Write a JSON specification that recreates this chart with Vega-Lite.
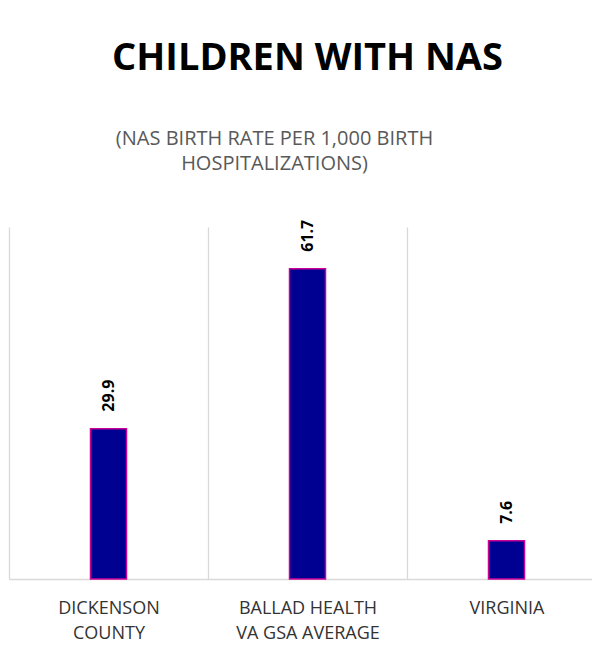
{
  "$schema": "https://vega.github.io/schema/vega-lite/v6.json",
  "autosize": "none",
  "width": 597,
  "height": 352,
  "padding": {"left": 9, "top": 227, "right": 0, "bottom": 80},
  "background": "white",
  "title": {
    "text": "CHILDREN WITH NAS",
    "font": "Open Sans",
    "fontSize": 38,
    "fontWeight": "bold",
    "color": "#000000",
    "anchor": "middle",
    "frame": "group",
    "baseline": "alphabetic",
    "offset": 20
  },
  "config": {
    "view": {"stroke": null},
    "font": "Open Sans"
  },
  "data": {
    "values": [
      {"area": "DICKENSON|COUNTY", "rate": 29.9},
      {"area": "BALLAD HEALTH|VA GSA AVERAGE", "rate": 61.7},
      {"area": "VIRGINIA", "rate": 7.6}
    ]
  },
  "encoding": {
    "x": {
      "field": "area",
      "type": "nominal",
      "sort": null,
      "scale": {"paddingInner": 0, "paddingOuter": 0},
      "axis": {
        "title": null,
        "labelAngle": 0,
        "labelExpr": "split(datum.label, '|')",
        "labelFont": "Open Sans",
        "labelFontSize": 18,
        "labelColor": "#333333",
        "labelLineHeight": 25,
        "labelPadding": 20,
        "ticks": false,
        "tickBand": "extent",
        "grid": true,
        "gridColor": "#d9d9d9",
        "gridWidth": 1.3,
        "domainColor": "#d9d9d9",
        "domainWidth": 1.5
      }
    },
    "y": {
      "field": "rate",
      "type": "quantitative",
      "scale": {"domain": [0, 70], "nice": false},
      "axis": {
        "labels": false,
        "ticks": false,
        "domain": false,
        "grid": false,
        "title": ["(NAS BIRTH RATE PER 1,000 BIRTH", "HOSPITALIZATIONS)"],
        "titleAngle": 0,
        "titleX": 265,
        "titleY": -83,
        "titleAlign": "center",
        "titleBaseline": "alphabetic",
        "titleFont": "Open Sans",
        "titleFontSize": 20,
        "titleFontWeight": "normal",
        "titleColor": "#595959",
        "titleLineHeight": 25
      }
    }
  },
  "layer": [
    {
      "mark": {"type": "bar", "width": 36, "fill": "#000091", "stroke": "#cc0099", "strokeWidth": 1.5}
    },
    {
      "mark": {"type": "text", "angle": 270, "align": "left", "baseline": "middle", "dx": 17, "font": "Open Sans", "fontSize": 16, "fontWeight": "bold", "color": "#000000"},
      "encoding": {"text": {"field": "rate", "type": "quantitative", "format": ".1f"}}
    }
  ]
}
